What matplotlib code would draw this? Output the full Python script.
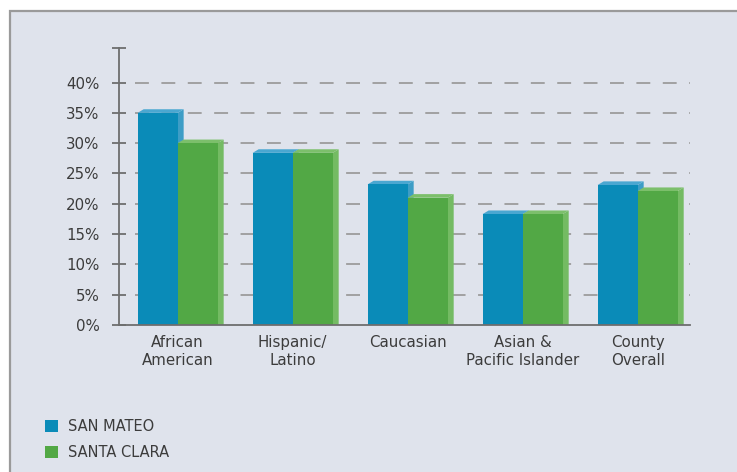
import matplotlib

matplotlib.use("Agg")

import numpy as np
from matplotlib import pyplot as plt
from matplotlib.patches import Patch, Polygon, Rectangle

categories = ["African\nAmerican", "Hispanic/\nLatino", "Caucasian",
              "Asian &\nPacific Islander", "County\nOverall"]
san_mateo = [35.0, 28.4, 23.2, 18.3, 23.1]
santa_clara = [30.0, 28.4, 21.0, 18.3, 22.1]
y_ticks = [0, 5, 10, 15, 20, 25, 30, 35, 40]
y_top = 45.7

BG = "#dfe3ec"
BLUE = ("#0a8bb8", "#4aa7d1", "#3d9dc6")    # front, top, side
GREEN = ("#52a845", "#7cbf6b", "#74bb63")
TEXT = "#3c3c3c"
AXIS = "#6e6e6e"

plt.rcParams["font.family"] = ["DejaVu Sans"]
plt.rcParams["lines.scale_dashes"] = False

fig = plt.figure(figsize=(7.37, 4.72), dpi=100)
fig.patch.set_facecolor("white")
fig.patches.append(
    Rectangle((10 / 737, -0.1), 1.2, 1 - 11 / 472 + 0.1, transform=fig.transFigure,
              facecolor=BG, edgecolor="#9a9a9a", linewidth=1.6, zorder=-10)
)

ax = fig.add_axes([119 / 737, 147 / 472, 571 / 737, 277 / 472])
ax.set_facecolor("none")
ax.set_xlim(-0.51, 4.455)
ax.set_ylim(0, y_top)

x = np.arange(len(categories))
width = 0.348

# pixel sizes of the 3d depth, converted to data units
px_x = (ax.get_xlim()[1] - ax.get_xlim()[0]) / 571
px_y = y_top / 277
dx, dy = 6 * px_x, 3.6 * px_y


def draw_bar(x0, h, colors):
    front, top, side = colors
    x1 = x0 + width
    ax.add_patch(Polygon([(x1, 0), (x1 + dx, 0), (x1 + dx, h + dy), (x1, h)],
                         closed=True, facecolor=side, edgecolor="none", zorder=3))
    ax.add_patch(Polygon([(x0, h), (x0 + dx, h + dy), (x1 + dx, h + dy), (x1, h)],
                         closed=True, facecolor=top, edgecolor="none", zorder=3))
    ax.add_patch(Rectangle((x0, 0), width, h, facecolor=front, edgecolor="none", zorder=3))


for i in x:
    draw_bar(i - width, san_mateo[i], BLUE)
    draw_bar(i, santa_clara[i], GREEN)

ax.hlines(y_ticks[1:], 0.028, 1.0, transform=ax.get_yaxis_transform(),
          colors="#9c9c9c", linewidth=1.3, linestyles=(0, (10, 9)), zorder=1)

for side in ("top", "right"):
    ax.spines[side].set_visible(False)
for side in ("left", "bottom"):
    ax.spines[side].set_color(AXIS)
    ax.spines[side].set_linewidth(1.3)
    ax.spines[side].set_zorder(4)

ax.set_yticks(y_ticks + [y_top])
ax.set_yticklabels([f"{t}%" for t in y_ticks] + [""])
ax.tick_params(axis="y", direction="inout", length=10, width=1.3, color=AXIS,
               labelsize=10.8, labelcolor=TEXT, pad=9)
ax.set_xticks(x)
ax.set_xticklabels(categories, linespacing=1.3)
ax.tick_params(axis="x", length=0, labelsize=10.8, labelcolor=TEXT, pad=7)

handles = [Patch(facecolor=BLUE[0], label="SAN MATEO"),
           Patch(facecolor=GREEN[0], label="SANTA CLARA")]
fig.legend(handles=handles, loc="upper left", bbox_to_anchor=(32 / 737, 1 - 406 / 472),
           frameon=False, fontsize=10.5, labelcolor=TEXT, handlelength=0.85,
           handleheight=0.85, handletextpad=0.7, labelspacing=0.75)

fig.savefig("out.png", dpi=100)
